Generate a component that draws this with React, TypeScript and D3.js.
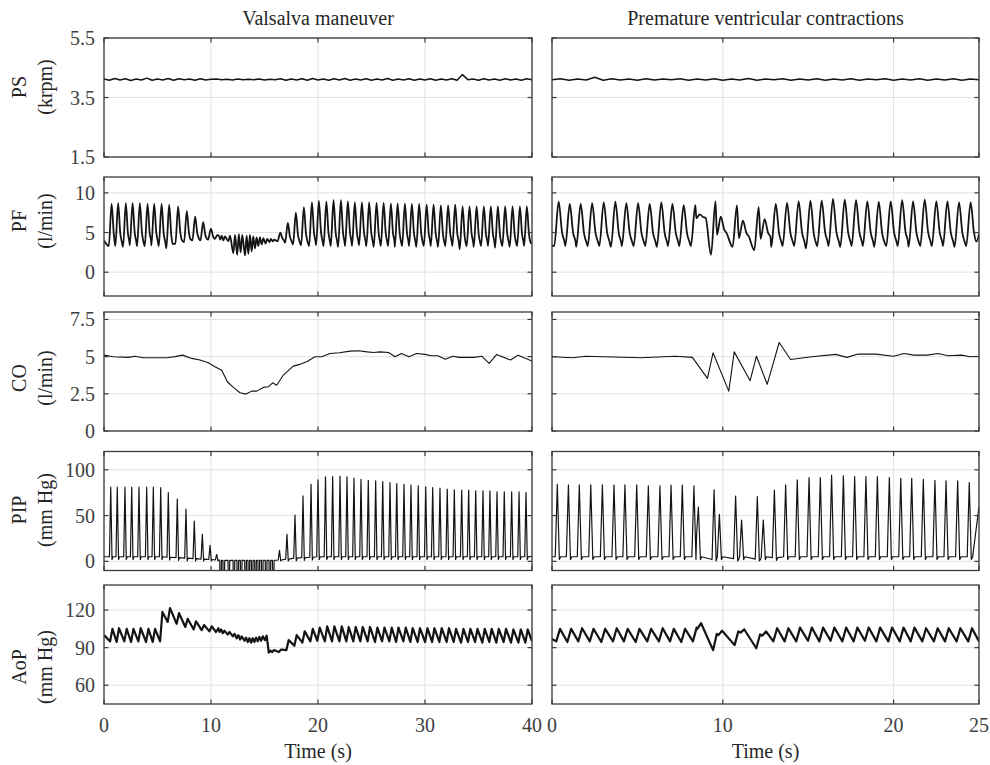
import * as d3 from "d3";

// ---------- data ----------
// tick labels
const psTicks = [1.5, 3.5, 5.5];
const pfTicks = [0, 5, 10];
const coTicks = [0, 2.5, 5, 7.5];
const pipTicks = [0, 50, 100];
const aopTicks = [60, 90, 120];
const xTicksL = [0, 10, 20, 30, 40];
const xTicksR = [0, 10, 20, 25];

// Valsalva: beat times (s) and per-beat values
const beatsL = [0.63, 1.24, 1.96, 2.59, 3.27, 3.99, 4.61, 5.3, 6.01, 6.85, 7.66, 8.44, 9.19, 9.91, 10.53, 16.4, 17.1, 17.85, 18.6, 19.35, 20.0, 20.7, 21.37, 22.06, 22.71, 23.36, 24.02, 24.7, 25.39, 26.05, 26.73, 27.36, 28.04, 28.69, 29.37, 30.07, 30.72, 31.4, 32.08, 32.74, 33.43, 34.08, 34.74, 35.42, 36.07, 36.73, 37.41, 38.1, 38.79, 39.44];
const pfPeakL = [8.6, 8.7, 8.7, 8.7, 8.7, 8.6, 8.6, 8.6, 8.5, 8.3, 7.7, 7.0, 6.3, 5.5, 4.7, 5.0, 6.2, 7.5, 8.2, 8.8, 9.0, 8.9, 9.07, 9.07, 8.94, 8.81, 8.81, 8.81, 8.73, 8.73, 8.65, 8.65, 8.65, 8.6, 8.6, 8.52, 8.52, 8.43, 8.43, 8.52, 8.3, 8.3, 8.3, 8.3, 8.3, 8.3, 8.3, 8.3, 8.3, 8.3];
const pfLowL = [3.3, 3.3, 3.2, 3.4, 3.3, 3.3, 3.4, 3.3, 3.0, 3.6, 3.8, 4.0, 4.0, 4.1, 4.2, 3.9, 3.7, 3.5, 3.4, 3.3, 3.4, 3.3, 3.3, 3.2, 3.3, 3.3, 3.4, 3.3, 3.2, 3.3, 3.3, 3.2, 3.3, 3.3, 3.2, 3.3, 3.3, 3.2, 3.3, 3.3, 2.9, 3.3, 3.2, 3.3, 3.3, 3.1, 3.3, 3.2, 3.3, 3.3];
const pipPeakL = [81, 81, 81, 81, 81, 81, 81, 80.5, 75, 68, 57, 44, 29.5, 17.5, 7.5, 12, 29.5, 50.5, 71.5, 84, 89, 92.3, 92.6, 93, 92.3, 90.9, 89.7, 88.6, 87.9, 87.2, 86, 85, 84.2, 83.2, 82.4, 81.3, 80.5, 79.9, 78.8, 78, 77.7, 77.7, 77, 77, 77, 76, 76, 75.8, 75.8, 75];
const pipBaseL = [5, 5, 5, 5, 5, 5, 5, 5, 4.5, 4, 3.5, 3, 2.5, 2, 1.5, 1.5, 2.5, 3.5, 4, 4.5, 5, 5, 5, 5, 5, 5, 5, 5, 5, 5, 5, 5, 5, 5, 5, 5, 5, 5, 5, 5, 5, 5, 5, 5, 5, 5, 5, 5, 5, 5];
const aopMaxL = [105, 105.5, 105, 105, 105.5, 105, 105, 118.5, 121.5, 117.5, 113, 111, 108, 107, 105.5, 88.5, 96, 100, 103, 105, 106, 107, 107, 107, 106.5, 106.5, 106.5, 106.5, 106, 106, 106, 106, 106, 105.5, 105.5, 105.5, 105.5, 105.5, 105.5, 105, 105, 105, 105, 105, 105, 105, 105, 104.5, 104.5, 104.5];
const aopMinL = [95, 94.5, 95, 94.5, 95, 94.5, 94.5, 95, 110.5, 109, 106.5, 104.5, 104, 103, 102.5, 86.5, 88, 91.5, 94, 95, 95.5, 95, 95, 95, 95, 95, 95, 95, 94.5, 95, 95, 94.5, 95, 94.5, 94.5, 94.5, 94.5, 94.5, 94.5, 94.5, 94, 94.5, 94.5, 94, 94.5, 94, 94.5, 94, 94, 94];
// Valsalva strain: suction events
const valsT = [10.85, 11.15, 11.62, 12.09, 12.45, 12.77, 13.18, 13.49, 13.8, 14.11, 14.42, 14.74, 15.1, 15.45, 15.77];
const pfValsLo = [4.1, 4.0, 3.9, 2.4, 2.2, 2.5, 2.1, 2.3, 2.6, 3.0, 3.3, 3.5, 3.6, 3.8, 3.9];
const pfValsHi = [4.6, 4.5, 4.6, 4.7, 4.8, 4.7, 4.6, 4.7, 4.5, 4.4, 4.4, 4.3, 4.2, 4.2, 4.1];
const aopValsLo = [102.5, 101.5, 100.5, 99, 97.5, 96.5, 95.5, 94.5, 94, 94.5, 95, 95.5, 96, 86, 86.5];
const aopValsHi = [104.5, 103.5, 102.5, 101, 100, 99, 98, 97.5, 97.5, 98, 98.5, 99, 99.5, 87.5, 88];
// start / end values of each trace
const pfEdgeL = [4.0, 3.6];
const pipEdgeL = [5, 5.5];
const aopEdgeL = [100, 95];
// pump speed, every 0.5 s
const psL = [4.12, 4.08, 4.14, 4.09, 4.13, 4.07, 4.12, 4.09, 4.15, 4.08, 4.12, 4.09, 4.14, 4.08, 4.13, 4.1, 4.12, 4.08, 4.13, 4.09, 4.11, 4.12, 4.1, 4.11, 4.09, 4.12, 4.1, 4.11, 4.1, 4.12, 4.09, 4.11, 4.1, 4.13, 4.08, 4.12, 4.09, 4.13, 4.08, 4.14, 4.09, 4.12, 4.08, 4.13, 4.09, 4.14, 4.08, 4.12, 4.09, 4.13, 4.08, 4.12, 4.09, 4.14, 4.08, 4.12, 4.09, 4.13, 4.08, 4.12, 4.09, 4.13, 4.08, 4.12, 4.09, 4.13, 4.08, 4.27, 4.1, 4.12, 4.08, 4.13, 4.09, 4.12, 4.08, 4.13, 4.09, 4.12, 4.08, 4.13, 4.1];
// cardiac output
const coTL = [0, 0.87, 2.27, 2.9, 3.67, 5.86, 6.64, 7.35, 8.2, 8.97, 9.75, 10.37, 11.0, 11.53, 12.09, 12.71, 13.27, 13.8, 14.27, 14.89, 15.36, 15.76, 16.14, 16.76, 17.69, 18.32, 18.94, 19.72, 20.34, 21.12, 22.0, 23.0, 23.8, 24.6, 25.2, 25.8, 26.6, 27.2, 27.8, 28.5, 29.2, 30.0, 30.6, 31.2, 31.9, 32.6, 33.2, 34.6, 35.3, 36.0, 36.7, 38.0, 38.7, 40];
const coVL = [5.1, 4.99, 4.95, 5.03, 4.92, 4.92, 5.0, 5.1, 4.88, 4.77, 4.59, 4.32, 4.09, 3.31, 2.93, 2.57, 2.48, 2.68, 2.68, 2.93, 2.97, 3.24, 3.08, 3.76, 4.36, 4.48, 4.66, 4.99, 4.99, 5.21, 5.26, 5.37, 5.39, 5.32, 5.28, 5.32, 5.28, 4.99, 5.21, 4.99, 5.21, 5.15, 5.06, 5.06, 4.83, 5.03, 4.95, 4.95, 5.03, 4.54, 5.15, 4.77, 5.1, 4.7];

// Premature ventricular contractions
const beatsR = [0.31, 0.96, 1.6, 2.27, 2.95, 3.63, 4.27, 4.96, 5.64, 6.32, 6.97, 7.63, 8.31, 8.57, 9.49, 9.8, 10.75, 11.1, 12.02, 12.37, 13.02, 13.68, 14.36, 15.05, 15.71, 16.37, 17.06, 17.72, 18.38, 19.05, 19.75, 20.42, 21.06, 21.74, 22.42, 23.07, 23.75, 24.43];
const pfPeakR = [8.9, 8.6, 8.6, 8.7, 8.8, 8.9, 8.7, 8.7, 8.6, 8.8, 8.6, 8.45, 8.45, 7.3, 8.94, 7.0, 8.43, 6.5, 8.2, 6.7, 8.6, 8.73, 8.94, 9.02, 9.02, 9.24, 9.15, 9.07, 8.94, 8.85, 8.94, 9.07, 8.94, 9.15, 8.94, 8.94, 8.81, 8.81];
const pfLowR = [3.3, 3.3, 3.2, 3.3, 3.3, 3.2, 3.3, 3.3, 3.3, 3.2, 3.3, 3.3, 3.3, 6.8, 2.2, 4.7, 3.2, 4.3, 2.8, 4.2, 3.2, 3.3, 3.3, 3.0, 3.3, 3.3, 3.2, 3.3, 3.3, 3.2, 3.3, 3.3, 3.2, 3.3, 3.3, 3.3, 3.2, 3.3];
const pipPeakR = [84, 83.5, 83.5, 83.5, 83.5, 83.5, 83.5, 83.5, 82.4, 82.4, 83.2, 83.2, 82.4, 59.3, 78, 51.3, 71.4, 45, 70.7, 45, 77.7, 83.5, 89, 91.6, 91.6, 94.1, 93.4, 92.7, 92.7, 92.7, 91.6, 90.8, 90.8, 89.7, 88.6, 87.9, 87.9, 86.1];
const pipBaseR = [5, 5, 5, 5, 5, 5, 5, 5, 5, 5, 5, 5, 5, 30, 2, 5, 3, 5, 2.5, 5, 4, 5, 5, 5, 5, 5, 5, 5, 5, 5, 5, 5, 5, 5, 5, 5, 5, 5];
const aopMaxR = [105, 105, 105.5, 105, 105, 105.5, 105, 105, 105, 105.5, 105, 105, 106, 109.5, 101, 103.5, 103, 104.5, 100.5, 103, 105.5, 105.5, 106, 106, 106, 106, 106, 106, 106, 106, 106, 106, 106, 105.5, 105.5, 105.5, 105.5, 105.5];
const aopMinR = [95, 94.5, 95, 95, 94.5, 95, 95, 94.5, 95, 95, 95, 94.5, 95, 105, 88, 100, 92, 102, 89.5, 99.5, 95, 95, 95, 95.5, 95, 95.5, 95, 95, 95.5, 95, 95, 95, 95, 95, 95, 95, 95, 95];
const pfEdgeR = [3.4, 4.8];
const pipEdgeR = [5, 60];
const aopEdgeR = [97, 95];
const psR = [4.1, 4.13, 4.08, 4.12, 4.09, 4.18, 4.08, 4.13, 4.09, 4.12, 4.08, 4.13, 4.09, 4.12, 4.1, 4.13, 4.08, 4.12, 4.09, 4.13, 4.08, 4.12, 4.09, 4.14, 4.08, 4.12, 4.1, 4.13, 4.08, 4.12, 4.09, 4.13, 4.08, 4.12, 4.09, 4.13, 4.08, 4.12, 4.1, 4.13, 4.08, 4.12, 4.09, 4.13, 4.08, 4.12, 4.09, 4.13, 4.08, 4.12, 4.1];
const coTR = [0, 1.22, 1.97, 5.22, 7.22, 8.22, 9.1, 9.43, 10.35, 10.67, 11.6, 11.97, 12.6, 13.3, 13.97, 15.2, 16.6, 17.27, 17.92, 18.97, 20.0, 20.6, 21.2, 21.97, 22.6, 23.2, 23.97, 24.5, 25];
const coVR = [4.99, 4.92, 5.03, 4.92, 5.03, 4.95, 3.54, 5.26, 2.68, 5.32, 3.38, 5.03, 3.14, 5.95, 4.81, 4.99, 5.15, 4.95, 5.17, 5.17, 5.03, 5.21, 5.1, 5.1, 5.21, 5.06, 5.1, 4.99, 5.03];

// ---------- beat -> polyline helpers ----------
type Pt = [number, number];
type Ev = { core: Pt[]; tail: Pt[] };
type Item = { t: number; make: (gap: number) => Ev };

function assemble(items: Item[], start: Pt, end: Pt): Pt[] {
  const s = [...items].sort((a, b) => a.t - b.t);
  const evs = s.map((it, k) => it.make(k ? it.t - s[k - 1].t : 1));
  const out: Pt[] = [start];
  evs.forEach((e, k) => {
    const limit = k + 1 < evs.length ? evs[k + 1].core[0][0] : end[0];
    out.push(...e.core);
    e.tail.forEach(p => { if (p[0] < limit - 0.02) out.push(p); });
  });
  out.push(end);
  return out.filter(p => p[0] >= 0 && p[0] <= end[0]);
}

const pfBeat = (t: number, pk: number, lo: number): Item => ({
  t,
  make: gap => {
    const pre = Math.min(0.18, 0.45 * gap);
    const d = pk - lo;
    return { core: [[t - pre, lo], [t + 0.08, pk]], tail: [[t + 0.28, lo + 0.3 * d], [t + 0.42, lo + 0.1 * d]] };
  },
});
const pipBeat = (t: number, pk: number, base: number): Item => ({
  t,
  make: gap => {
    const pre = Math.min(0.12, 0.4 * gap);
    const rest = Math.min(base, 5);
    return { core: [[t - pre, base], [t, pk]], tail: [[t + 0.12, Math.max(rest - 3, 0.5)], [t + 0.2, rest]] };
  },
});
const aopBeat = (t: number, mx: number, mn: number): Item => ({
  t,
  make: gap => {
    const pre = Math.min(0.06, 0.3 * gap);
    return { core: [[t - pre, mn], [t + 0.16, mx]], tail: [] };
  },
});
const pfSpike = (t: number, lo: number, hi: number): Item => ({ t, make: () => ({ core: [[t, lo], [t + 0.15, hi]], tail: [] }) });
const pipSpike = (t: number): Item => ({ t, make: () => ({ core: [[t - 0.03, 1], [t, -30], [t + 0.1, -30], [t + 0.13, 1]], tail: [] }) });
const aopSpike = (t: number, lo: number, hi: number): Item => ({ t, make: () => ({ core: [[t - 0.05, lo], [t + 0.1, hi]], tail: [] }) });

const END = [40, 25];

const series: { pts: Pt[]; w: number; smooth?: boolean }[][] = [
  [
    { pts: psL.map((v, i) => [i * 0.5, v] as Pt), w: 1.5 },
    { pts: psR.map((v, i) => [i * 0.5, v] as Pt), w: 1.5 },
  ],
  [
    {
      pts: assemble(
        [...beatsL.map((t, i) => pfBeat(t, pfPeakL[i], pfLowL[i])), ...valsT.map((t, i) => pfSpike(t, pfValsLo[i], pfValsHi[i]))],
        [0, pfEdgeL[0]], [END[0], pfEdgeL[1]]),
      w: 1.8, smooth: true,
    },
    { pts: assemble(beatsR.map((t, i) => pfBeat(t, pfPeakR[i], pfLowR[i])), [0, pfEdgeR[0]], [END[1], pfEdgeR[1]]), w: 1.8, smooth: true },
  ],
  [
    { pts: coTL.map((t, i) => [t, coVL[i]] as Pt), w: 1.1 },
    { pts: coTR.map((t, i) => [t, coVR[i]] as Pt), w: 1.1 },
  ],
  [
    {
      pts: assemble([...beatsL.map((t, i) => pipBeat(t, pipPeakL[i], pipBaseL[i])), ...valsT.map(t => pipSpike(t))],
        [0, pipEdgeL[0]], [END[0], pipEdgeL[1]]),
      w: 1.2,
    },
    { pts: assemble(beatsR.map((t, i) => pipBeat(t, pipPeakR[i], pipBaseR[i])), [0, pipEdgeR[0]], [END[1], pipEdgeR[1]]), w: 1.2 },
  ],
  [
    {
      pts: assemble(
        [...beatsL.map((t, i) => aopBeat(t, aopMaxL[i], aopMinL[i])), ...valsT.map((t, i) => aopSpike(t, aopValsLo[i], aopValsHi[i]))],
        [0, aopEdgeL[0]], [END[0], aopEdgeL[1]]),
      w: 2.2,
    },
    { pts: assemble(beatsR.map((t, i) => aopBeat(t, aopMaxR[i], aopMinR[i])), [0, aopEdgeR[0]], [END[1], aopEdgeR[1]]), w: 2.2 },
  ],
];

// ---------- layout ----------
const PH = 119;
const TICK = 4.5;
const FONT = "'Liberation Serif', 'Times New Roman', serif";
const COLS = [
  { x0: 104, x1: 532, end: END[0], ticks: xTicksL, title: "Valsalva maneuver" },
  { x0: 552, x1: 979, end: END[1], ticks: xTicksR, title: "Premature ventricular contractions" },
];
const ROWS = [
  { name: "PS", unit: "(krpm)", top: 38, domain: [1.5, 5.5], ticks: psTicks, fmt: (v: number) => v.toFixed(1), labelY: 87 },
  { name: "PF", unit: "(l/min)", top: 177, domain: [-3, 12], ticks: pfTicks, fmt: String, labelY: 221 },
  { name: "CO", unit: "(l/min)", top: 312, domain: [0, 8], ticks: coTicks, fmt: String, labelY: 378 },
  { name: "PIP", unit: "(mm Hg)", top: 451.5, domain: [-10, 120], ticks: pipTicks, fmt: String, labelY: 510 },
  { name: "AoP", unit: "(mm Hg)", top: 585, domain: [45, 140], ticks: aopTicks, fmt: String, labelY: 667 },
];

export default function App() {
  return (
    <svg width={990} height={765} style={{ position: "absolute", left: 0, top: 0, background: "#fff" }} fontFamily={FONT}>
      {COLS.map((col, c) => (
        <text key={"t" + c} x={(col.x0 + col.x1) / 2} y={25} textAnchor="middle" fontSize={20} fill="#262626">{col.title}</text>
      ))}
      {ROWS.map((row, r) => {
        const y = d3.scaleLinear().domain(row.domain).range([row.top + PH, row.top]);
        return (
          <g key={row.name}>
            <text transform={`translate(19,${row.labelY}) rotate(-90)`} textAnchor="middle" dominantBaseline="central" fontSize={20} fill="#262626">{row.name}</text>
            <text transform={`translate(45,${row.labelY}) rotate(-90)`} textAnchor="middle" dominantBaseline="central" fontSize={20} fill="#262626">{row.unit}</text>
            {COLS.map((col, c) => {
              const x = d3.scaleLinear().domain([0, col.end]).range([col.x0, col.x1]);
              const s = series[r][c];
              const line = d3.line<Pt>().x(d => x(d[0])).y(d => y(d[1])).curve(s.smooth ? d3.curveMonotoneX : d3.curveLinear);
              const id = `clip${r}${c}`;
              const bottom = r === ROWS.length - 1;
              return (
                <g key={c}>
                  <clipPath id={id}><rect x={col.x0} y={row.top} width={col.x1 - col.x0} height={PH} /></clipPath>
                  {row.ticks.map(v => (
                    <line key={"gy" + v} x1={col.x0} x2={col.x1} y1={y(v)} y2={y(v)} stroke="#e2e2e2" strokeWidth={1} />
                  ))}
                  {col.ticks.map(v => (
                    <line key={"gx" + v} x1={x(v)} x2={x(v)} y1={row.top} y2={row.top + PH} stroke="#e2e2e2" strokeWidth={1} />
                  ))}
                  <path d={line(s.pts) ?? ""} fill="none" stroke="#141414" strokeWidth={s.w} strokeLinejoin="round" clipPath={`url(#${id})`} />
                  <rect x={col.x0} y={row.top} width={col.x1 - col.x0} height={PH} fill="none" stroke="#3a3a3a" strokeWidth={1.3} />
                  {row.ticks.map(v => (
                    <g key={"ty" + v}>
                      <line x1={col.x0} x2={col.x0 + TICK} y1={y(v)} y2={y(v)} stroke="#3a3a3a" strokeWidth={1.2} />
                      <line x1={col.x1} x2={col.x1 - TICK} y1={y(v)} y2={y(v)} stroke="#3a3a3a" strokeWidth={1.2} />
                    </g>
                  ))}
                  {col.ticks.map(v => (
                    <g key={"tx" + v}>
                      <line x1={x(v)} x2={x(v)} y1={row.top} y2={row.top + TICK} stroke="#3a3a3a" strokeWidth={1.2} />
                      <line x1={x(v)} x2={x(v)} y1={row.top + PH} y2={row.top + PH - TICK} stroke="#3a3a3a" strokeWidth={1.2} />
                    </g>
                  ))}
                  {c === 0 && row.ticks.map(v => (
                    <text key={"ly" + v} x={col.x0 - 9} y={y(v)} textAnchor="end" dominantBaseline="central" fontSize={20} fill="#404040">{row.fmt(v)}</text>
                  ))}
                  {bottom && col.ticks.map(v => (
                    <text key={"lx" + v} x={x(v)} y={732} textAnchor="middle" fontSize={20} fill="#404040">{v}</text>
                  ))}
                  {bottom && (
                    <text x={(col.x0 + col.x1) / 2} y={758} textAnchor="middle" fontSize={20} fill="#262626">Time (s)</text>
                  )}
                </g>
              );
            })}
          </g>
        );
      })}
    </svg>
  );
}
